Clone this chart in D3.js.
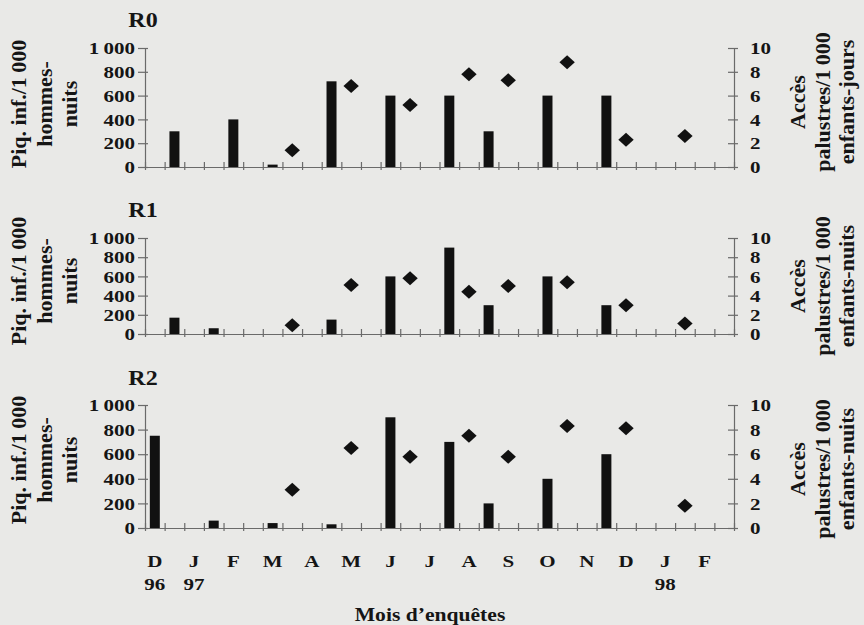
<!DOCTYPE html>
<html>
<head>
<meta charset="utf-8">
<script src="https://cdnjs.cloudflare.com/ajax/libs/d3/7.8.5/d3.min.js"></script>
<style>
  body { margin: 0; background: #e9e9e7; }
  svg text { font-family: "Liberation Serif", "Times New Roman", serif; font-weight: bold; fill: #151515; }
</style>
</head>
<body>
<div id="chart"></div>
<script>
// months of the survey, two half-month slots per month
var months = ['D', 'J', 'F', 'M', 'A', 'M', 'J', 'J', 'A', 'S', 'O', 'N', 'D', 'J', 'F'];
var years  = ['96', '97', '', '', '', '', '', '', '', '', '', '', '', '98', ''];

var piqTicks = [0, 200, 400, 600, 800, 1000];
var accTicks = [0, 2, 4, 6, 8, 10];

// R0
var r0PiqSlot = [1, 4, 6, 9, 12, 15, 17, 20, 23];
var r0PiqVal  = [300, 400, 20, 720, 600, 600, 300, 600, 600];
var r0AccSlot = [7, 10, 13, 16, 18, 21, 24, 27];
var r0AccVal  = [1.4, 6.8, 5.2, 7.8, 7.3, 8.8, 2.3, 2.6];

// R1
var r1PiqSlot = [1, 3, 9, 12, 15, 17, 20, 23];
var r1PiqVal  = [170, 60, 150, 600, 900, 300, 600, 300];
var r1AccSlot = [7, 10, 13, 16, 18, 21, 24, 27];
var r1AccVal  = [0.9, 5.1, 5.8, 4.4, 5.0, 5.4, 3.0, 1.1];

// R2
var r2PiqSlot = [0, 3, 6, 9, 12, 15, 17, 20, 23];
var r2PiqVal  = [750, 60, 40, 30, 900, 700, 200, 400, 600];
var r2AccSlot = [7, 10, 13, 16, 18, 21, 24, 27];
var r2AccVal  = [3.1, 6.5, 5.8, 7.5, 5.8, 8.3, 8.1, 1.8];

var panels = [
	{name: 'R0', piqSlot: r0PiqSlot, piqVal: r0PiqVal, accSlot: r0AccSlot, accVal: r0AccVal,
		top: 48, bottom: 167, titleY: 27, leftY: 104, rightY: 102, unit: 'enfants-jours'},
	{name: 'R1', piqSlot: r1PiqSlot, piqVal: r1PiqVal, accSlot: r1AccSlot, accVal: r1AccVal,
		top: 238, bottom: 334, titleY: 217, leftY: 281, rightY: 286, unit: 'enfants-nuits'},
	{name: 'R2', piqSlot: r2PiqSlot, piqVal: r2PiqVal, accSlot: r2AccSlot, accVal: r2AccVal,
		top: 405, bottom: 528, titleY: 385, leftY: 460, rightY: 469, unit: 'enfants-nuits'}
];

var width = 864, height = 625,
	xLeft = 145, xRight = 734,
	axisColor = '#6a6a6a',
	markColor = '#111';

var svg = d3.select('#chart').append('svg')
	.attr('width', width)
	.attr('height', height);

svg.append('rect').attr('width', width).attr('height', height).attr('fill', '#e9e9e7');

var slots = d3.range(months.length * 2);
var x = d3.scaleBand().domain(slots).range([xLeft, xRight]);
var xEdge = d3.scaleLinear().domain([0, slots.length]).range([xLeft, xRight]);

function fmtPiq (d) {
	return d >= 1000 ? d3.format(',')(d).replace(',', '\u2009') : String(d);
}

panels.forEach(function (p) {
	var yL = d3.scaleLinear().domain([0, 1000]).range([p.bottom, p.top]);
	var yR = d3.scaleLinear().domain([0, 10]).range([p.bottom, p.top]);
	var g = svg.append('g');

	// bars : piqûres infectantes
	g.selectAll('rect.bar')
		.data(p.piqSlot)
		.enter()
		.append('rect')
		.attr('class', 'bar')
		.attr('x', function (d) { return x(d) + x.bandwidth() / 2 - 5; })
		.attr('width', 10)
		.attr('y', function (d, i) { return yL(p.piqVal[i]); })
		.attr('height', function (d, i) { return p.bottom - yL(p.piqVal[i]); })
		.attr('fill', markColor);

	// bottom axis, ticks crossing the line
	var xa = g.append('g')
		.attr('transform', 'translate(0,' + p.bottom + ')')
		.call(d3.axisBottom(xEdge).tickValues(d3.range(slots.length + 1)).tickFormat('').tickSize(3).tickSizeOuter(0));
	xa.selectAll('.tick line').attr('y1', -5);

	var la = g.append('g')
		.attr('transform', 'translate(' + xLeft + ',0)')
		.call(d3.axisLeft(yL).tickValues(piqTicks).tickFormat(fmtPiq).tickSize(7).tickSizeOuter(0));
	la.selectAll('.tick line').attr('x1', 3);
	la.selectAll('.tick text')
		.attr('x', 0)
		.attr('transform', 'translate(-10,0) scale(1.2,1)');

	var ra = g.append('g')
		.attr('transform', 'translate(' + xRight + ',0)')
		.call(d3.axisRight(yR).tickValues(accTicks).tickSize(4).tickSizeOuter(0));
	ra.selectAll('.tick line').attr('x1', -6);
	ra.selectAll('.tick text')
		.attr('x', 0)
		.attr('transform', 'translate(16,0) scale(1.2,1)');

	[xa, la, ra].forEach(function (a) {
		a.selectAll('path, line').attr('stroke', axisColor).attr('stroke-width', 1.2);
		a.selectAll('text').style('font-size', '17.5px').style('font-family', null).attr('fill', '#151515');
	});

	// diamonds : accès palustres
	g.selectAll('path.acc')
		.data(p.accSlot)
		.enter()
		.append('path')
		.attr('class', 'acc')
		.attr('d', d3.symbol(d3.symbolSquare, 98))
		.attr('transform', function (d, i) {
			return 'translate(' + (x(d) + x.bandwidth() / 2) + ',' + yR(p.accVal[i]) + ') scale(1.1,1) rotate(45)';
		})
		.attr('fill', markColor);

	// title
	g.append('text')
		.attr('text-anchor', 'middle')
		.attr('transform', 'translate(143,' + p.titleY + ') scale(1.2,1)')
		.style('font-size', '20px')
		.text(p.name);

	// left label
	['Piq. inf./1\u2009000', 'hommes-', 'nuits'].forEach(function (t, i) {
		g.append('text')
			.attr('text-anchor', 'middle')
			.attr('transform', 'translate(' + (26 + i * 25.5) + ',' + p.leftY + ') rotate(-90)')
			.style('font-size', '22px')
			.text(t);
	});

	// right label
	['Accès', 'palustres/1\u2009000', p.unit].forEach(function (t, i) {
		g.append('text')
			.attr('text-anchor', 'middle')
			.attr('transform', 'translate(' + (805 + i * 24.5) + ',' + p.rightY + ') rotate(-90)')
			.style('font-size', '22px')
			.text(t);
	});
});

// month labels under the last panel
var lab = svg.append('g');
months.forEach(function (m, i) {
	var cx = x(i * 2) + x.bandwidth() / 2;
	lab.append('text')
		.attr('text-anchor', 'middle')
		.attr('transform', 'translate(' + cx + ',567) scale(1.2,1)')
		.style('font-size', '17.5px')
		.text(m);
	if (years[i]) {
		lab.append('text')
			.attr('text-anchor', 'middle')
			.attr('transform', 'translate(' + cx + ',590) scale(1.2,1)')
			.style('font-size', '17.5px')
			.text(years[i]);
	}
});

lab.append('text')
	.attr('text-anchor', 'middle')
	.attr('transform', 'translate(430,621) scale(1.2,1)')
	.style('font-size', '18px')
	.text('Mois d\u2019enquêtes');
</script>
</body>
</html>
